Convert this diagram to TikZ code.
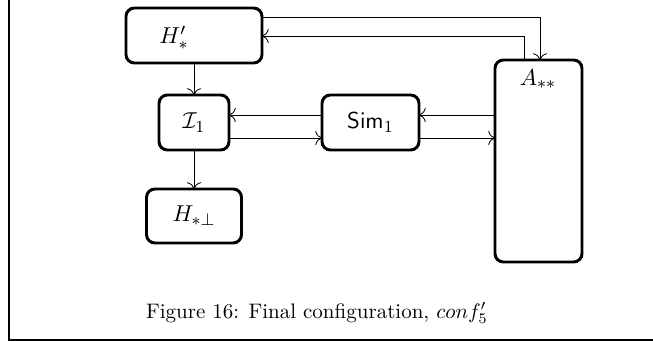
\documentclass[tikz,border=0pt]{standalone}
\usetikzlibrary{calc,arrows.meta}
\begin{document}
\begin{tikzpicture}[x=0.476pt,y=-0.476pt,
  box/.style={draw,rounded corners=4pt,line width=1.4pt,outer sep=0pt,inner sep=0pt,font=\fontsize{11.4pt}{13pt}\selectfont},
  lbl/.style={font=\fontsize{11.4pt}{13pt}\selectfont},
  arr/.style={-{To[scale=1.3]},line width=0.4pt},
  frameline/.style={line width=0.5pt}]
\useasboundingbox (0,0) rectangle (653,342);
\draw[frameline] (9,0) -- (9,340) -- (653,340);
% boxes
\node[box,minimum width=136*0.476pt,minimum height=55*0.476pt] (H) at (194,35.5) {};
\node[lbl] at (174,38) (Hl) {$H'_*$};
\node[box,minimum width=70*0.476pt,minimum height=55*0.476pt] (I) at (194,122.5) {$\mathcal{I}_1$};
\node[box,minimum width=97*0.476pt,minimum height=55*0.476pt] (S) at (370.5,122.5) {$\mathsf{Sim}_1$};
\node[box,minimum width=95*0.476pt,minimum height=54*0.476pt] (P) at (194,216) {$H_{*\perp}$};
\node[box,minimum width=87*0.476pt,minimum height=202*0.476pt] (A) at (538.5,161) {};
\node[lbl] at (538,79) (Al) {$A_{**}$};
% connectors
\draw[arr] (H.east |- 0,17) -| (A.north -| 540,0);
\draw[arr] (A.north -| 524,0) |- (H.east |- 0,36);
\draw[arr] (H.south) -- (I.north);
\draw[arr] (I.south) -- (P.north);
\draw[arr] (S.west |- 0,115) -- (I.east |- 0,115);
\draw[arr] (I.east |- 0,138) -- (S.west |- 0,138);
\draw[arr] (A.west |- 0,115) -- (S.east |- 0,115);
\draw[arr] (S.east |- 0,138) -- (A.west |- 0,138);
% caption
\node (cap) at (317,313) {Figure 16: Final configuration, $conf'_5$};
\end{tikzpicture}
\end{document}
